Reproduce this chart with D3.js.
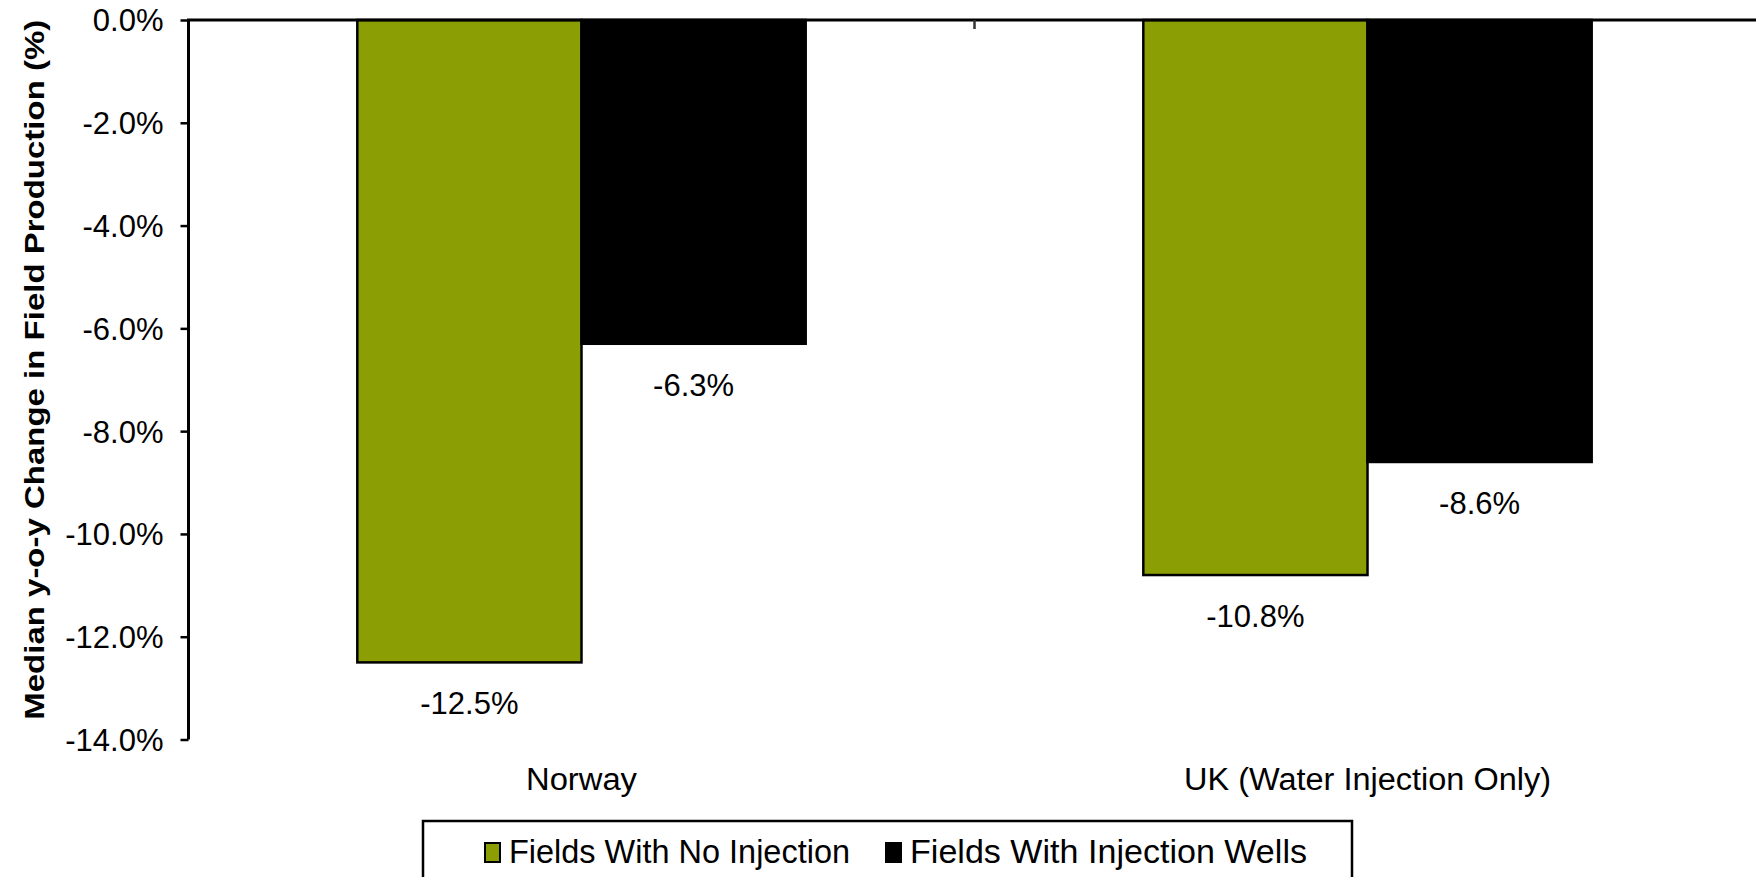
<!DOCTYPE html>
<html>
<head>
<meta charset="utf-8">
<script src="https://cdn.jsdelivr.net/npm/d3@7"></script>
<style>
  html, body { margin: 0; padding: 0; background: #fff; }
  svg { display: block; font-family: "Liberation Sans", Arial, sans-serif; }
</style>
</head>
<body>
<svg id="chart" width="1756" height="877"></svg>
<script>
const categories = ["Norway", "UK (Water Injection Only)"];
const seriesNames = ["Fields With No Injection", "Fields With Injection Wells"];
const noInjection = [-12.5, -10.8];
const injectionWells = [-6.3, -8.6];
const yTicks = [0, -2, -4, -6, -8, -10, -12, -14];
const seriesColors = ["#8B9E03", "#000000"];
const yTitle = "Median y-o-y Change in Field Production (%)";

const seriesValues = [noInjection, injectionWells];
const rows = categories.map((c, i) => ({
  cat: c,
  vals: seriesNames.map((s, j) => ({ series: s, value: seriesValues[j][i], color: seriesColors[j] }))
}));

const svg = d3.select("#chart");
const W = 1756, H = 877;
const plotLeft = 188.5, plotTop = 20, plotBottom = 739.5, plotRight = 1760.5;

const y = d3.scaleLinear().domain([0, -14]).range([plotTop, plotBottom]);
const x0 = d3.scaleBand().domain(categories).range([plotLeft, plotRight]).padding(0);
const x1 = d3.scaleBand().domain(seriesNames).range([0, x0.bandwidth()]).paddingInner(0).paddingOuter(0.753);

// Bars
const groups = svg.append("g").selectAll("g").data(rows).join("g")
  .attr("transform", d => `translate(${x0(d.cat)},0)`);

groups.selectAll("rect").data(d => d.vals).join("rect")
  .attr("x", d => x1(d.series))
  .attr("y", d => y(0))
  .attr("width", x1.bandwidth())
  .attr("height", d => y(d.value) - y(0))
  .attr("fill", d => d.color)
  .attr("stroke", "#000")
  .attr("stroke-width", 2.5);

// Data labels
groups.selectAll("text").data(d => d.vals).join("text")
  .attr("x", d => x1(d.series) + x1.bandwidth() / 2)
  .attr("y", d => y(d.value) + 52)
  .attr("text-anchor", "middle")
  .attr("font-size", 31)
  .attr("fill", "#000")
  .text(d => d.value.toFixed(1) + "%");

// Y axis
const yAxis = svg.append("g")
  .attr("transform", `translate(${plotLeft},0)`)
  .call(d3.axisLeft(y).tickValues(yTicks).tickFormat(d => d.toFixed(1) + "%").tickSize(8).tickPadding(17));
yAxis.select(".domain").attr("stroke", "#000").attr("stroke-width", 3).attr("d", `M0,${plotTop}V${plotBottom}`);
yAxis.selectAll(".tick line").attr("stroke", "#000").attr("stroke-width", 2.5);
yAxis.selectAll(".tick text").attr("font-size", 31).attr("fill", "#000")
  .attr("font-family", "'Liberation Sans', Arial, sans-serif").attr("dy", "0.35em");

// Category axis at zero line (top)
const xAxis = svg.append("g")
  .attr("transform", `translate(0,${y(0)})`)
  .call(d3.axisBottom(x0).tickValues(categories.slice(1)).tickSize(9).tickFormat(""));
xAxis.selectAll(".tick").attr("transform", d => `translate(${x0(d)},0)`);
xAxis.select(".domain").attr("stroke", "#000").attr("stroke-width", 3).attr("d", `M${plotLeft - 1.5},0H${W}`);
xAxis.selectAll(".tick line").attr("stroke", "#333").attr("stroke-width", 2.5);

// Category labels
svg.append("g").selectAll("text").data(categories).join("text")
  .attr("x", d => x0(d) + x0.bandwidth() / 2)
  .attr("y", 790)
  .attr("text-anchor", "middle")
  .attr("font-size", 31)
  .attr("fill", "#000")
  .attr("textLength", (d, i) => i === 0 ? 111 : 367)
  .attr("lengthAdjust", "spacingAndGlyphs")
  .text(d => d);

// Y title
svg.append("text")
  .attr("transform", `translate(44,${(plotTop + plotBottom) / 2 - 10}) rotate(-90)`)
  .attr("text-anchor", "middle")
  .attr("font-size", 28)
  .attr("font-weight", "bold")
  .attr("fill", "#000")
  .attr("textLength", 700)
  .attr("lengthAdjust", "spacingAndGlyphs")
  .text(yTitle);

// Legend
const legend = svg.append("g");
legend.append("rect")
  .attr("x", 423).attr("y", 821).attr("width", 929).attr("height", 80)
  .attr("fill", "#fff").attr("stroke", "#000").attr("stroke-width", 2.5);
const legX = [485, 886];
const legLen = [341, 397];
const items = legend.selectAll("g.item").data(seriesNames).join("g").attr("class", "item");
items.append("rect")
  .attr("x", (d, i) => legX[i]).attr("y", 843)
  .attr("width", 15).attr("height", 19)
  .attr("fill", (d, i) => seriesColors[i])
  .attr("stroke", "#000").attr("stroke-width", 2);
items.append("text")
  .attr("x", (d, i) => legX[i] + 24).attr("y", 863)
  .attr("font-size", 33).attr("fill", "#000")
  .attr("textLength", (d, i) => legLen[i])
  .attr("lengthAdjust", "spacingAndGlyphs")
  .text(d => d);
</script>
</body>
</html>
